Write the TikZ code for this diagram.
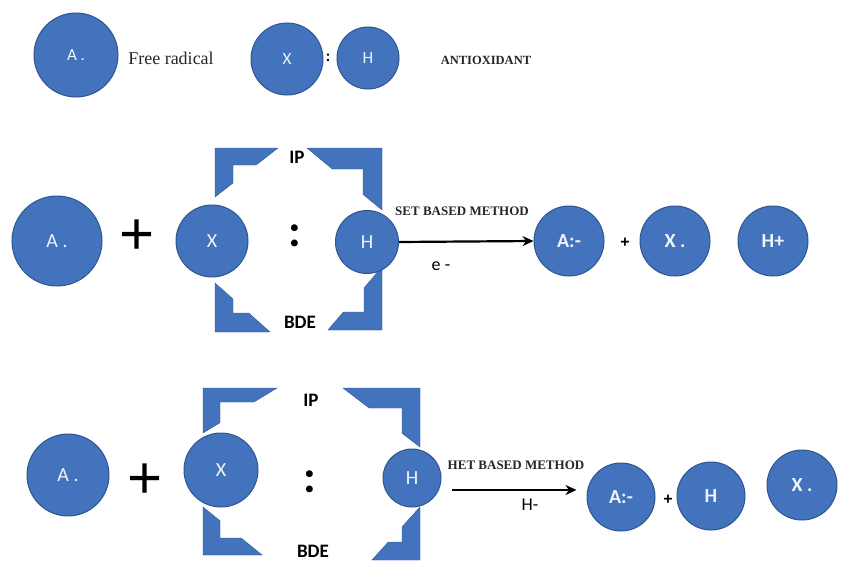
\documentclass[tikz,border=0pt]{standalone}
\usepackage{fontspec}
\setmainfont{Liberation Serif}
\newfontfamily\calib{Carlito}
\newfontfamily\arialf{Liberation Sans}
\usetikzlibrary{arrows.meta}
\definecolor{cfill}{HTML}{4273BC}
\definecolor{cedge}{HTML}{2F5590}

% half frame: corner x, corner y, x direction, y direction, width, height,
% thickness of the horizontal arm, thickness of the vertical arm
\newcommand{\halfframe}[8]{%
  \begin{scope}[shift={(#1,#2)}, xscale=#3, yscale=#4]
    \fill[cfill, draw=cedge, line width=0.4pt]
      (0,0) -- (#5,0) -- ({#5*(1-#7/#6)},#7) -- (#8,#7)
      -- (#8,{#6*(1-#8/#5)}) -- (0,#6) -- cycle;
  \end{scope}}

\tikzset{
  ball/.style={circle, fill=cfill, draw=cedge, line width=1pt, inner sep=0pt,
    minimum size=#1, text=white!92!cfill, font={\calib\fontsize{20}{20}\selectfont}},
  prod/.style={ball=#1, font={\calib\bfseries\fontsize{20}{20}\selectfont}},
  bigplus/.style={inner sep=0pt, font={\arialf\fontsize{60}{60}\selectfont}},
  smallplus/.style={inner sep=0pt, font={\arialf\bfseries\fontsize{16}{16}\selectfont}},
  bigcolon/.style={inner sep=0pt, font={\calib\bfseries\fontsize{46}{46}\selectfont}},
  tag/.style={inner sep=0pt, font={\calib\bfseries\fontsize{19}{19}\selectfont}},
  method/.style={inner sep=0pt, text=black!85, font={\bfseries\fontsize{13}{13}\selectfont}},
  carrier/.style={inner sep=0pt, font={\calib\fontsize{18}{18}\selectfont}},
  arr/.style={-{Stealth[length=11pt,width=10pt,inset=3.5pt]}, line width=2.2pt, black},
}

\begin{document}
\begin{tikzpicture}[x=1pt, y=-1pt]
\useasboundingbox (0,0) rectangle (841,562);
\fill[white] (0,0) rectangle (841,562);

% ---- legend ----
\node[ball=84pt, font={\calib\fontsize{17}{17}\selectfont}] (a1) at (76,55) {\raisebox{-4pt}{A .}};
\node[inner sep=0pt, font={\fontsize{18}{18}\selectfont}, text=black!85] (fr) at (171,58) {Free radical};
\node[ball=72pt, font={\calib\fontsize{17}{17}\selectfont}] (x1) at (287,59) {\raisebox{-2pt}{X}};
\node[inner sep=0pt, font={\calib\bfseries\fontsize{16}{16}\selectfont}] (c1) at (328,58) {:};
\node[ball=62pt, font={\calib\fontsize{17}{17}\selectfont}] (h1) at (368,58) {\raisebox{-2pt}{H}};
\node[inner sep=0pt, text=black!85, font={\bfseries\fontsize{12.5}{12.5}\selectfont}] (ao) at (486,60) {ANTIOXIDANT};

% ---- single electron transfer ----
\halfframe{215}{148}{1}{1}{63}{49}{17}{18}
\halfframe{382}{148}{-1}{1}{75}{62}{21}{19}
\halfframe{215}{332}{1}{-1}{55}{49}{19}{18}
\halfframe{382}{330}{-1}{-1}{54}{63}{18}{18}

\node[ball=90pt] (a2) at (57,241) {A .};
\node[bigplus] (p2) at (137,237) {+};
\node[ball=72pt] (x2) at (212,241) {X};
\node[bigcolon] (c2) at (295,236) {:};
\node[ball=63pt] (h2) at (367,242) {H};
\node[tag] (ip2) at (297,157) {IP};
\node[tag] (bde2) at (300,322) {BDE};

\node[prod=70pt] (am2) at (569,241) {A:-};
\node[smallplus] (sp2) at (625,243) {+};
\node[prod=70pt] (xd2) at (675,241) {X .};
\node[prod=70pt] (hp2) at (773,241) {H+};

\draw[arr] (h2.east) -- (am2.west);
\node[method] (set) at (462,211) {SET BASED METHOD};
\node[carrier] (el) at (441,266) {e -};

% ---- hydrogen/electron transfer ----
\halfframe{203}{388}{1}{1}{74}{45}{14}{17}
\halfframe{420}{388}{-1}{1}{77}{59}{20}{18}
\halfframe{203}{555}{1}{-1}{59}{48}{17}{17}
\halfframe{420}{560}{-1}{-1}{48}{53}{18}{18}

\node[ball=82pt] (a3) at (68,475) {A .};
\node[bigplus] (p3) at (145,481) {+};
\node[ball=74pt] (x3) at (221,470) {X};
\node[bigcolon] (c3) at (310,482) {:};
\node[ball=58pt] (h3) at (412,478) {H};
\node[tag] (ip3) at (311,400) {IP};
\node[tag] (bde3) at (313,551) {BDE};

\node[prod=68pt] (am3) at (621,497) {A:-};
\node[smallplus] (sp3) at (668,500) {+};
\node[prod=68pt] (hh3) at (711,496) {H};
\node[prod=70pt] (xd3) at (802,485) {X .};

\coordinate (hs) at (452,490);
\draw[arr] (hs) -- ([xshift=-10pt]hs -| am3.west);
\node[method] (het) at (516,465) {HET BASED METHOD};
\node[carrier] (hm) at (530,505) {H-};
\end{tikzpicture}
\end{document}
